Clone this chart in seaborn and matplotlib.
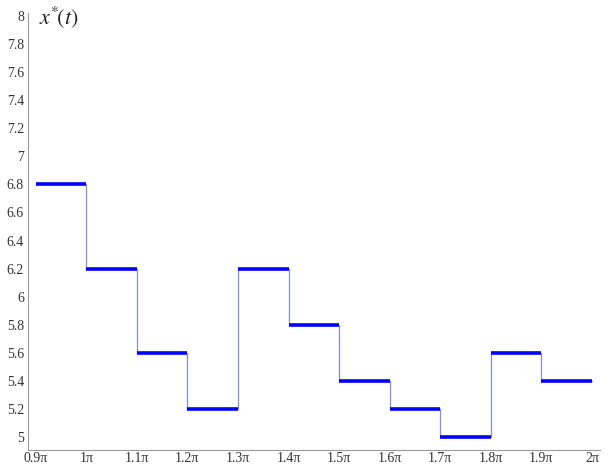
import numpy as np
import pandas as pd
import matplotlib
matplotlib.use("Agg")
import matplotlib.pyplot as plt
import seaborn as sns

# Piecewise-constant control x*(t): breakpoints in units of pi and level on each interval
breaks = [0.9, 1.0, 1.1, 1.2, 1.3, 1.4, 1.5, 1.6, 1.7, 1.8, 1.9, 2.0]
levels = [6.8, 6.2, 5.6, 5.2, 6.2, 5.8, 5.4, 5.2, 5.0, 5.6, 5.4]
xtick_labels = ["0.9π", "1π", "1.1π", "1.2π", "1.3π", "1.4π", "1.5π",
                "1.6π", "1.7π", "1.8π", "1.9π", "2π"]
yticks = [5, 5.2, 5.4, 5.6, 5.8, 6, 6.2, 6.4, 6.6, 6.8, 7, 7.2, 7.4, 7.6, 7.8, 8]

sns.set_theme(style="white")
plt.rcParams["font.family"] = ["Liberation Serif", "DejaVu Serif"]
plt.rcParams["mathtext.fontset"] = "stix"

fig, ax = plt.subplots(figsize=(6.11, 4.66), dpi=100)
fig.subplots_adjust(left=0.046, right=0.982, bottom=0.034, top=0.972)

# thin connector line (step function)
step = pd.DataFrame({"t": breaks, "x": levels + [levels[-1]]})
sns.lineplot(data=step, x="t", y="x", drawstyle="steps-post", color="#8a8ae6",
             linewidth=0.9, ax=ax, estimator=None)

# thick horizontal pieces
seg = pd.DataFrame({
    "t": [b for i in range(len(levels)) for b in (breaks[i], breaks[i + 1])],
    "x": [v for v in levels for _ in range(2)],
    "piece": [i for i in range(len(levels)) for _ in range(2)],
})
sns.lineplot(data=seg, x="t", y="x", units="piece", estimator=None,
             color="#0000ff", linewidth=2.6, ax=ax, legend=False,
             solid_capstyle="butt")

ax.set_xlim(0.885, 2.016)
ax.set_ylim(4.907, 8.02)
ax.set_xticks(breaks)
ax.set_xticklabels(xtick_labels)
ax.set_yticks(yticks)
ax.set_yticklabels([f"{v:g}" for v in yticks])
ax.set_xlabel("")
ax.set_ylabel("")

for s in ["top", "right"]:
    ax.spines[s].set_visible(False)
for s in ["left", "bottom"]:
    ax.spines[s].set_color("#999999")
    ax.spines[s].set_linewidth(0.8)

ax.tick_params(axis="both", direction="in", length=3, width=0.6, color="#999999",
               labelsize=10, labelcolor="#333333", pad=3)
ax.tick_params(axis="x", pad=1.5)

ax.text(0.019, 1.02, r"$x^{*}\!\left(t\right)$", transform=ax.transAxes, fontsize=16,
        va="top", ha="left", color="#222222")

fig.savefig("out.png", dpi=100, facecolor="white")
